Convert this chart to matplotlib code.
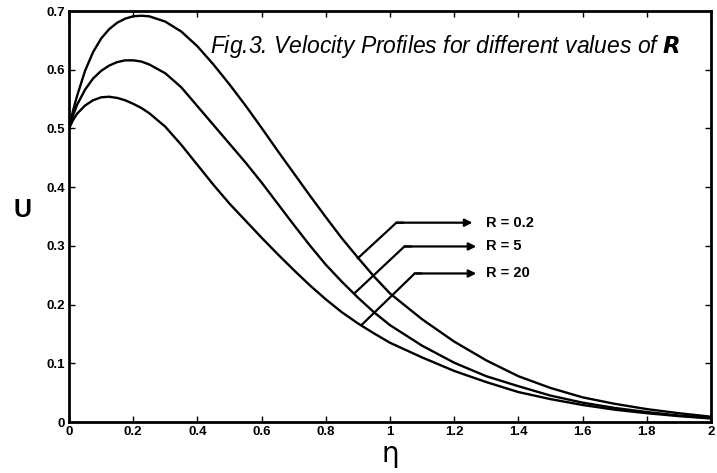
import matplotlib
matplotlib.use("Agg")
import matplotlib.pyplot as plt

# eta positions where the curves were read
eta = [0.0, 0.0125, 0.025, 0.05, 0.075, 0.1, 0.125, 0.15, 0.175, 0.2, 0.225,
       0.25, 0.3, 0.35, 0.4, 0.45, 0.5, 0.55, 0.6, 0.65, 0.7, 0.75, 0.8, 0.85,
       0.9, 0.95, 1.0, 1.1, 1.2, 1.3, 1.4, 1.5, 1.6, 1.7, 1.8, 1.9, 2.0]

u_r02 = [0.500, 0.530, 0.555, 0.598, 0.630, 0.653, 0.669, 0.680, 0.687, 0.691, 0.692,
         0.691, 0.682, 0.665, 0.640, 0.609, 0.575, 0.539, 0.501, 0.462, 0.424, 0.386,
         0.349, 0.313, 0.280, 0.248, 0.219, 0.175, 0.137, 0.105, 0.078, 0.058, 0.042,
         0.031, 0.022, 0.015, 0.009]
u_r5 = [0.500, 0.522, 0.540, 0.566, 0.585, 0.598, 0.607, 0.613, 0.616, 0.616, 0.614,
        0.609, 0.594, 0.570, 0.538, 0.506, 0.474, 0.442, 0.408, 0.372, 0.336, 0.301,
        0.268, 0.239, 0.212, 0.187, 0.165, 0.130, 0.101, 0.078, 0.061, 0.045, 0.033,
        0.024, 0.017, 0.011, 0.007]
u_r20 = [0.500, 0.514, 0.525, 0.539, 0.548, 0.553, 0.554, 0.552, 0.548, 0.542, 0.535,
         0.526, 0.503, 0.472, 0.438, 0.404, 0.372, 0.343, 0.314, 0.286, 0.259, 0.233,
         0.209, 0.187, 0.168, 0.151, 0.135, 0.110, 0.087, 0.068, 0.051, 0.039, 0.029,
         0.021, 0.015, 0.010, 0.006]

labels = ["R = 0.2", "R = 5", "R = 20"]
xticks = [0, 0.2, 0.4, 0.6, 0.8, 1, 1.2, 1.4, 1.6, 1.8, 2]
xtick_labels = ["0", "0.2", "0.4", "0.6", "0.8", "1", "1.2", "1.4", "1.6", "1.8", "2"]
yticks = [0, 0.1, 0.2, 0.3, 0.4, 0.5, 0.6, 0.7]
ytick_labels = ["0", "0.1", "0.2", "0.3", "0.4", "0.5", "0.6", "0.7"]

plt.rcParams["font.family"] = ["Liberation Sans", "DejaVu Sans"]

fig = plt.figure(figsize=(7.17, 4.73), dpi=100)
ax = fig.add_axes([0.0962, 0.1078, 0.8954, 0.8689])

for u in (u_r02, u_r5, u_r20):
    ax.plot(eta, u, color="black", lw=1.7, solid_joinstyle="round")

ax.set_xlim(0, 2)
ax.set_ylim(0, 0.7)
ax.set_xticks(xticks)
ax.set_xticklabels(xtick_labels, fontweight="bold", fontsize=9.5)
ax.set_yticks(yticks)
ax.set_yticklabels(ytick_labels, fontweight="bold", fontsize=9.5)
ax.tick_params(direction="in", top=True, right=True, length=4, width=1, pad=3)
for s in ax.spines.values():
    s.set_linewidth(2)

ax.set_xlabel("η", fontsize=20, family="DejaVu Sans", labelpad=1)
ax.set_ylabel("U", fontsize=18, fontweight="bold", rotation=0, va="center", ha="center")
ax.yaxis.set_label_coords(-0.072, 0.515)

ax.text(0.438, 0.64, "Fig.3. Velocity Profiles for different values of $\\boldsymbol{R}$",
        fontsize=16.5, style="italic", ha="left", va="center")

# leader lines: start on curve, elbow, arrow end
leaders = [((0.90, 0.279), (1.02, 0.3395), (1.257, 0.3395)),
           ((0.889, 0.219), (1.045, 0.299), (1.269, 0.299)),
           ((0.911, 0.165), (1.077, 0.253), (1.269, 0.253))]
for (p0, p1, p2), lab in zip(leaders, labels):
    ax.plot([p0[0], p1[0], p1[0] + 0.02], [p0[1], p1[1], p1[1]], color="black", lw=1.6)
    ax.annotate("", xy=p2, xytext=p1,
                arrowprops=dict(arrowstyle="-|>", color="black", lw=1.6,
                                mutation_scale=11, shrinkA=0, shrinkB=0))
    ax.text(1.298, p1[1], lab, fontsize=10.5, fontweight="bold", ha="left", va="center")

fig.savefig("out.png", dpi=100)
